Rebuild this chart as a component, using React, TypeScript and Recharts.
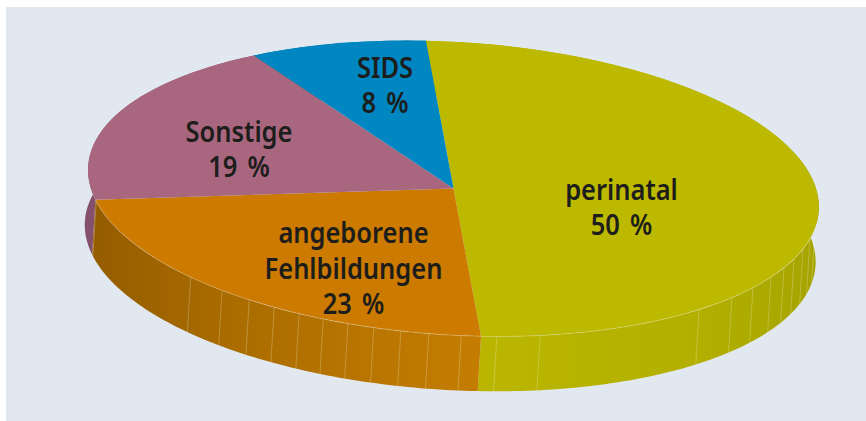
import React from "react";
import { PieChart, Pie, Sector } from "recharts";

const categories = ["perinatal", "angeborene\nFehlbildungen", "Sonstige", "SIDS"];
const shares = [50, 23, 19, 8];
const topColors = ["#bdb900", "#cc7a00", "#a9677f", "#0086c0"];
const wallFrom = ["#bab600", "#c47d00", "#85506c", "#006c9a"];
const wallMid = ["#b2af00", "#aa6c00", "#85506c", "#006c9a"];
const wallTo = ["#a6a300", "#935c00", "#85506c", "#006c9a"];
const seamAngles = [
  97.1, 101.4, 105.6, 109.9, 113.9, 118.3, 123.6, 129.0, 136.4, 164.9, 171.8, 177.4, 182.5, 186.9, 191.2, 195.4,
  199.5, 203.6, 208.0, 212.6, 217.9, 224.6, 256.5,
];
const labelOffsets = [
  [168, 19],
  [-100, 80],
  [-214.5, -39],
  [-68.5, -103],
];

const data = categories.map((name, i) => ({ name, value: shares[i], index: i }));

const W = 866;
const H = 421;
const CX = 453.5;
const CY = 188.5;
const A = 366;
const B = 146.5;
const TILT = 3.45;
const DEPTH_X = -3.3;
const DEPTH_Y = 54.9;
const rad = Math.PI / 180;
const TEXT = "#1d1d1b";
const FONT = "'Noto Sans', sans-serif";

function pt(cx: number, cy: number, r: number, deg: number) {
  const u = r * Math.cos(deg * rad);
  const v = -(r * (B / A)) * Math.sin(deg * rad);
  const c = Math.cos(TILT * rad);
  const s = Math.sin(TILT * rad);
  return [cx + u * c - v * s, cy + u * s + v * c];
}

function arcPoints(cx: number, cy: number, r: number, from: number, to: number) {
  const n = Math.max(2, Math.ceil(Math.abs(from - to)));
  const out: number[][] = [];
  for (let i = 0; i <= n; i++) out.push(pt(cx, cy, r, from + ((to - from) * i) / n));
  return out;
}

function Wall(props: any) {
  const { cx, cy, outerRadius: r, startAngle, endAngle, index } = props;
  const top = arcPoints(cx, cy, r, startAngle, endAngle);
  const bottom = top.map(([x, y]) => [x + DEPTH_X, y + DEPTH_Y]).reverse();
  const d = "M" + [...top, ...bottom].map((p) => p[0].toFixed(2) + " " + p[1].toFixed(2)).join("L") + "Z";
  const id = "wall-" + index;
  const seams = seamAngles.map((a) => 90 - a).filter((a) => a < startAngle + 0.01 && a > endAngle - 0.01);
  return (
    <g>
      <defs>
        <linearGradient id={id} gradientUnits="userSpaceOnUse" x1={cx + 30} x2={index === 0 ? cx + r : cx - r} y1={0} y2={0}>
          <stop offset="0" stopColor={wallFrom[index]} />
          <stop offset="0.65" stopColor={wallMid[index]} />
          <stop offset="1" stopColor={wallTo[index]} />
        </linearGradient>
      </defs>
      <path d={d} fill={`url(#${id})`} />
      {seams.map((a) => {
        const [x, y] = pt(cx, cy, r, a);
        return (
          <line
            key={a}
            x1={x}
            y1={y}
            x2={x + DEPTH_X}
            y2={y + DEPTH_Y}
            stroke="#ffffff"
            strokeOpacity={0.26}
            strokeWidth={0.9}
          />
        );
      })}
    </g>
  );
}

function Top(props: any) {
  const { cx, cy, outerRadius: r, startAngle, endAngle, fill } = props;
  const frontFrom = Math.min(startAngle, -5);
  const frontTo = Math.max(endAngle, -167);
  const hasRim = frontFrom > frontTo;
  const rim = hasRim ? arcPoints(cx, cy, r, frontFrom, frontTo) : [];
  return (
    <g>
      <g transform={`translate(${cx} ${cy}) rotate(${TILT}) scale(1 ${B / A}) translate(${-cx} ${-cy})`}>
        <Sector cx={cx} cy={cy} innerRadius={0} outerRadius={r} startAngle={startAngle} endAngle={endAngle} fill={fill} stroke="none" />
      </g>
      {hasRim && (
        <polyline
          points={rim.map((p) => p.join(",")).join(" ")}
          fill="none"
          stroke="#ffffff"
          strokeOpacity={0.3}
          strokeWidth={0.8}
        />
      )}
    </g>
  );
}

function SliceLabel(props: any) {
  const { cx, cy, index, name, value } = props;
  const lines = [...String(name).split("\n"), value + " %"];
  const [dx, dy] = labelOffsets[index];
  const step = 35.5;
  const x = cx + dx;
  return (
    <text
      x={x}
      y={cy + dy - ((lines.length - 1) * step) / 2 + 10.25}
      textAnchor="middle"
      fontFamily={FONT}
      fontWeight={600}
      fontSize={28}
      wordSpacing={4}
      fill={TEXT}
      transform={`translate(${x} 0) scale(0.91 1) translate(${-x} 0)`}
    >
      {lines.map((t, i) => (
        <tspan key={t} x={x} dy={i === 0 ? 0 : step}>
          {t}
        </tspan>
      ))}
    </text>
  );
}

const coloured = data.map((d, i) => ({ ...d, fill: topColors[i] }));

export default function App() {
  return (
    <div style={{ position: "absolute", left: 0, top: 0, width: W, height: H, background: "#ffffff", overflow: "hidden" }}>
      <div style={{ position: "absolute", left: 6, top: 7, width: W - 6, height: H - 7, background: "#e1e8ef" }} />
      <div style={{ position: "absolute", left: 0, top: 0 }}>
        <PieChart width={W} height={H} margin={{ top: 0, right: 0, bottom: 0, left: 0 }} accessibilityLayer={false}>
          <Pie
            data={coloured}
            dataKey="value"
            nameKey="name"
            cx={CX}
            cy={CY}
            innerRadius={0}
            outerRadius={A}
            startAngle={95.7}
            endAngle={-264.3}
            stroke="none"
            isAnimationActive={false}
            shape={Wall}
          />
          <Pie
            data={coloured}
            dataKey="value"
            nameKey="name"
            cx={CX}
            cy={CY}
            innerRadius={0}
            outerRadius={A}
            startAngle={95.7}
            endAngle={-264.3}
            stroke="none"
            isAnimationActive={false}
            shape={Top}
            label={SliceLabel}
            labelLine={false}
          />
        </PieChart>
      </div>
    </div>
  );
}
